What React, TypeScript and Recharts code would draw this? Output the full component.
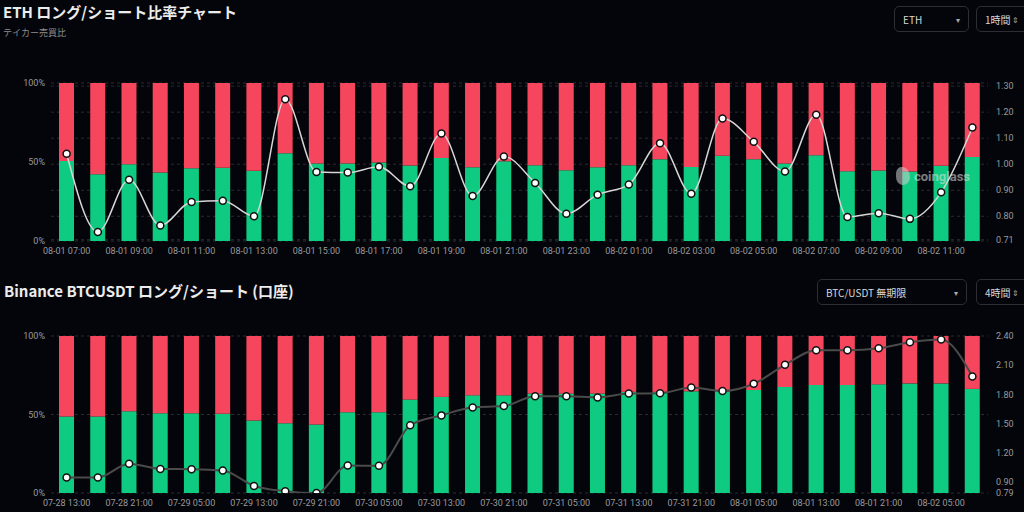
import React from 'react';
import { ComposedChart, Bar, Line, XAxis, YAxis, CartesianGrid } from 'recharts';

const ethTimes = [
  '08-01 07:00', '08-01 08:00', '08-01 09:00', '08-01 10:00', '08-01 11:00', '08-01 12:00',
  '08-01 13:00', '08-01 14:00', '08-01 15:00', '08-01 16:00', '08-01 17:00', '08-01 18:00',
  '08-01 19:00', '08-01 20:00', '08-01 21:00', '08-01 22:00', '08-01 23:00', '08-02 00:00',
  '08-02 01:00', '08-02 02:00', '08-02 03:00', '08-02 04:00', '08-02 05:00', '08-02 06:00',
  '08-02 07:00', '08-02 08:00', '08-02 09:00', '08-02 10:00', '08-02 11:00', '08-02 12:00',
];
const ethLong = [
  50.7, 42.3, 48.6, 43.4, 46.1, 46.3, 44.4, 55.6, 49.1, 49.1, 49.7, 47.8, 52.6, 46.7, 50.5,
  48.0, 44.8, 46.7, 48.0, 51.8, 46.9, 53.9, 51.8, 49.1, 54.2, 44.2, 44.6, 44.0, 47.6, 53.1,
];
const ethRatio = [
  1.04, 0.74, 0.94, 0.765, 0.855, 0.86, 0.8, 1.25, 0.97, 0.968, 0.99, 0.915, 1.118, 0.878, 1.03,
  0.928, 0.81, 0.883, 0.922, 1.081, 0.887, 1.176, 1.086, 0.972, 1.19, 0.797, 0.812, 0.79, 0.892, 1.141,
];
const ethRightTicks = [0.71, 0.8, 0.9, 1.0, 1.1, 1.2, 1.3];

const btcTimes = [
  '07-28 13:00', '07-28 17:00', '07-28 21:00', '07-29 01:00', '07-29 05:00', '07-29 09:00',
  '07-29 13:00', '07-29 17:00', '07-29 21:00', '07-30 01:00', '07-30 05:00', '07-30 09:00',
  '07-30 13:00', '07-30 17:00', '07-30 21:00', '07-31 01:00', '07-31 05:00', '07-31 09:00',
  '07-31 13:00', '07-31 17:00', '07-31 21:00', '08-01 01:00', '08-01 05:00', '08-01 09:00',
  '08-01 13:00', '08-01 17:00', '08-01 21:00', '08-02 01:00', '08-02 05:00', '08-02 09:00',
];
const btcLong = [
  48.7, 48.7, 52.1, 50.8, 50.8, 50.4, 46.2, 44.5, 43.7, 51.5, 51.5, 59.5, 61.2, 62.2, 62.2,
  63.3, 63.3, 63.3, 64.4, 64.4, 64.8, 64.8, 65.6, 67.5, 68.8, 68.8, 69.2, 69.8, 69.8, 66.3,
];
const btcRatio = [
  0.95, 0.95, 1.09, 1.037, 1.034, 1.02, 0.863, 0.809, 0.79, 1.071, 1.07, 1.484, 1.586, 1.668, 1.681,
  1.783, 1.783, 1.77, 1.81, 1.813, 1.872, 1.835, 1.91, 2.104, 2.254, 2.254, 2.274, 2.336, 2.363, 1.985,
];
const btcRightTicks = [0.79, 0.9, 1.2, 1.5, 1.8, 2.1, 2.4];

const pctTicks = [0, 50, 100];

const GREEN = '#0ecb81';
const RED = '#f6465d';
const BG = '#04050a';
const AXIS_TEXT = '#9a9a9a';
const CJK = '"Noto Sans CJK JP", "Noto Sans", sans-serif';

const tickStyle = { fontSize: 9, fill: AXIS_TEXT, fontFamily: 'Roboto, sans-serif' };

function buildRows(times: string[], longs: number[], ratios: number[]) {
  return times.map((t, i) => ({ time: t, long: longs[i], short: +(100 - longs[i]).toFixed(1), ratio: ratios[i] }));
}

const ethData = buildRows(ethTimes, ethLong, ethRatio);
const btcData = buildRows(btcTimes, btcLong, btcRatio);

function Dropdown({ left, top, width, label, arrow }: { left: number; top: number; width: number; label: string; arrow: string }) {
  return (
    <div
      style={{
        position: 'absolute', left, top, width, height: 26, boxSizing: 'border-box',
        border: '1px solid #2c2e33', borderRadius: 5, color: '#d8d8d8', fontFamily: CJK,
        fontSize: 10, display: 'flex', alignItems: 'center', paddingLeft: 8,
      }}
    >
      <span>{label}</span>
      <span style={{ position: 'absolute', right: 8, fontSize: 8, color: '#aaa' }}>{arrow}</span>
    </div>
  );
}

interface PanelProps {
  data: ReturnType<typeof buildRows>;
  height: number;
  marginTop: number;
  rightDomain: [number, number];
  rightTicks: number[];
  gridAxis: 'left' | 'right';
  lineColor: string;
  lineWidth: number;
}

function RatioPanel({ data, height, marginTop, rightDomain, rightTicks, gridAxis, lineColor, lineWidth }: PanelProps) {
  return (
    <ComposedChart width={1024} height={height} data={data} barCategoryGap="52%" margin={{ top: marginTop, right: 0, left: 0, bottom: 1 }}>
      <CartesianGrid yAxisId={gridAxis} vertical={false} stroke="#2a2c31" strokeDasharray="3 3" />
      <XAxis dataKey="time" interval={1} tick={tickStyle} tickLine={false} axisLine={false} tickSize={5} height={20} />
      <YAxis yAxisId="left" domain={[0, 100]} ticks={pctTicks} tickFormatter={v => `${v}%`} tick={tickStyle}
        tickLine={false} axisLine={false} width={51} tickSize={4} />
      <YAxis yAxisId="right" orientation="right" domain={rightDomain} ticks={rightTicks} allowDataOverflow interval={0}
        tickFormatter={v => Number(v).toFixed(2)} tick={tickStyle} tickLine={false} axisLine={false} width={36} />
      <Bar yAxisId="left" dataKey="long" stackId="a" fill={GREEN} barSize={15} isAnimationActive={false} />
      <Bar yAxisId="left" dataKey="short" stackId="a" fill={RED} barSize={15} isAnimationActive={false} />
      <Line yAxisId="right" type="monotone" dataKey="ratio" stroke={lineColor} strokeWidth={lineWidth}
        dot={{ r: 3.5, fill: '#ffffff', stroke: '#111', strokeWidth: 1.5 }} isAnimationActive={false} />
    </ComposedChart>
  );
}

export default function App() {
  return (
    <div style={{ position: 'absolute', left: 0, top: 0, width: 1024, height: 512, background: BG, overflow: 'hidden' }}>
      <div style={{ position: 'absolute', left: 0, top: 0, width: 1024, height: 262 }}>
        <RatioPanel data={ethData} height={262} marginTop={83} rightDomain={[0.705, 1.312]} rightTicks={ethRightTicks}
          gridAxis="right" lineColor="#d6d6d6" lineWidth={1.5} />
      </div>
      <div style={{ position: 'absolute', left: 0, top: 262, width: 1024, height: 252 }}>
        <RatioPanel data={btcData} height={252} marginTop={74} rightDomain={[0.79, 2.4]} rightTicks={btcRightTicks}
          gridAxis="left" lineColor="#4a4a4a" lineWidth={2} />
      </div>

      <div style={{ position: 'absolute', left: 3, top: 1, color: '#ececec', fontFamily: CJK, fontWeight: 700, fontSize: 15 }}>
        ETH ロング/ショート比率チャート
      </div>
      <div style={{ position: 'absolute', left: 3, top: 26, color: '#8e8e8e', fontFamily: CJK, fontSize: 9 }}>
        テイカー売買比
      </div>
      <div style={{ position: 'absolute', left: 4, top: 280, color: '#ececec', fontFamily: CJK, fontWeight: 700, fontSize: 15 }}>
        Binance BTCUSDT ロング/ショート (口座)
      </div>

      <Dropdown left={894} top={6} width={75} label="ETH" arrow="▾" />
      <Dropdown left={976} top={6} width={52} label="1時間" arrow="⇕" />
      <Dropdown left={817} top={279} width={150} label="BTC/USDT 無期限" arrow="▾" />
      <Dropdown left={976} top={279} width={52} label="4時間" arrow="⇕" />

      <div style={{ position: 'absolute', left: 896, top: 167, display: 'flex', alignItems: 'center', gap: 4, opacity: 0.55 }}>
        <div style={{ width: 14, height: 18, background: '#d0d0d0', borderRadius: '40% 60% 50% 50%' }} />
        <span style={{ color: '#e0e0e0', fontFamily: 'Roboto, sans-serif', fontWeight: 700, fontSize: 13 }}>coinglass</span>
      </div>
    </div>
  );
}
